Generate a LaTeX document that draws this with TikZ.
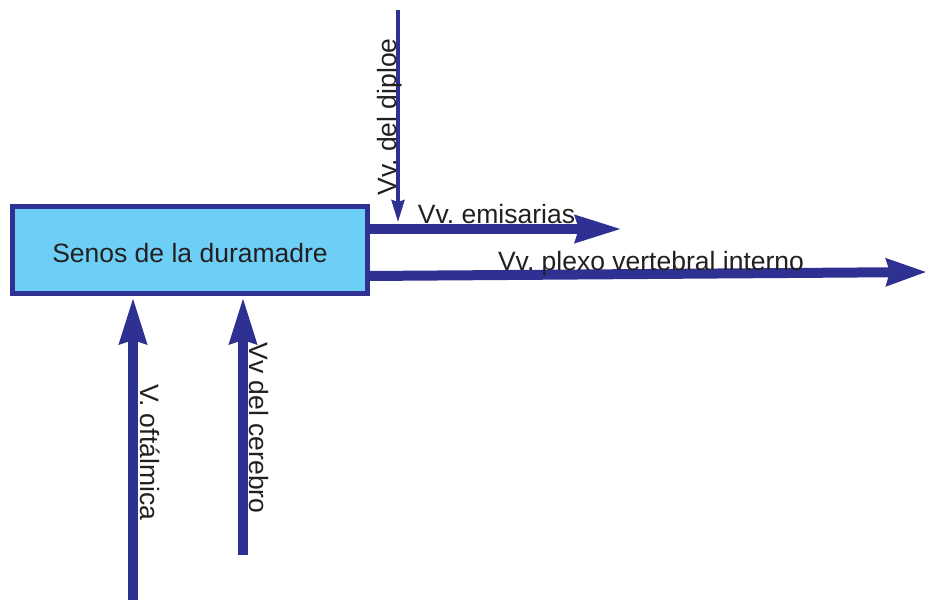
\documentclass[tikz,border=0pt]{standalone}
\usepackage{fontspec}
\setmainfont{Liberation Sans}
\usetikzlibrary{arrows.meta}
\frenchspacing
\definecolor{veinblue}{HTML}{2E3192}
\definecolor{sinusfill}{HTML}{6DCFF6}
\definecolor{labelgray}{HTML}{231F20}
\tikzset{
  sinusbox/.style={draw=veinblue, fill=sinusfill, line width=5pt,
    minimum width=355pt, minimum height=87pt, inner sep=0pt,
    text height=25pt, text depth=0pt, text=labelgray,
    font=\fontsize{26.5}{30}\selectfont},
  vein/.style={draw=veinblue, line width=10pt,
    -{Stealth[length=46pt, width=26pt, inset=3pt]}},
  thinvein/.style={draw=veinblue, line width=3.5pt,
    -{Stealth[length=22pt, width=13pt, inset=2pt]}},
  veinlabel/.style={text=labelgray, inner sep=0pt, anchor=base,
    font=\fontsize{26.5}{30}\selectfont}
}
\begin{document}
\begin{tikzpicture}[x=1pt, y=-1pt]
  \useasboundingbox (0,0) rectangle (927,600);

  % dural sinuses
  \node[sinusbox] (box) at (190,250) {Senos de la duramadre};

  % free ends of the veins
  \coordinate (emEnd) at (622,229);
  \coordinate (plexStart) at (367,276);
  \coordinate (plexEnd) at (927,272);
  \coordinate (dipTop) at (398,10);
  \coordinate (dipTip) at (398,222);
  \coordinate (oftBottom) at (133,600);
  \coordinate (cerBottom) at (243,555);

  % outflow
  \draw[vein] (box.east |- emEnd) -- (emEnd);
  \draw[vein, -{Stealth[length=40pt, width=26pt, inset=3pt]}] (plexStart) -- (plexEnd);
  % inflow, tips stopping just below the frame
  \draw[vein, shorten >=1pt] (oftBottom) -- (oftBottom |- box.south);
  \draw[vein, shorten >=1pt] (cerBottom) -- (cerBottom |- box.south);
  \draw[thinvein] (dipTop) -- (dipTip);

  % labels
  \node[veinlabel, rotate=90] (lDip) at (396,117) {Vv. del diploe};
  \node[veinlabel] (lEm) at (496.5,223) {Vv. emisarias};
  \node[veinlabel] (lPlex) at (651,270) {Vv. plexo vertebral interno};
  \node[veinlabel, rotate=-90] (lOft) at (140,452) {V. oftálmica};
  \node[veinlabel, rotate=-90] (lCer) at (249,428) {Vv del cerebro};
\end{tikzpicture}
\end{document}
